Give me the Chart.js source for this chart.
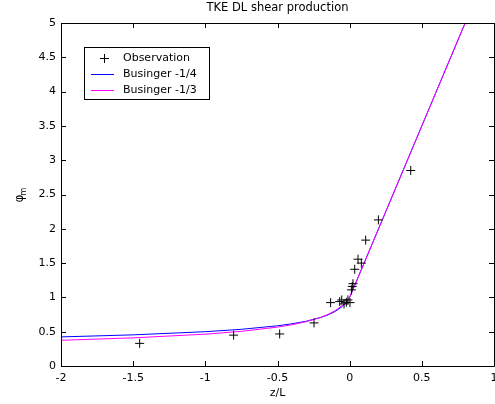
<!DOCTYPE html>
<html>
<head>
<meta charset="utf-8">
<script src="https://cdn.jsdelivr.net/npm/chart.js@4/dist/chart.umd.min.js"></script>
<style>
    body { margin: 0; background: #ffffff; }
    #wrap { width: 495px; height: 404px; }
</style>
</head>
<body>
<div id="wrap"><canvas id="tkeChart" width="495" height="404"></canvas></div>
<script>
var obsZ   = [-1.455, -0.804, -0.485, -0.247, -0.132, -0.069, -0.055, -0.039, -0.023, -0.012, 0.002, 0.012, 0.018, 0.023, 0.035, 0.058, 0.081, 0.111, 0.199, 0.423];
var obsPhi = [0.33, 0.45, 0.467, 0.628, 0.924, 0.939, 0.963, 0.905, 0.929, 0.963, 0.924, 1.11, 1.16, 1.20, 1.41, 1.557, 1.50, 1.835, 2.13, 2.85];

// Businger curves
var curveZ    = [-2, -1.5, -1, -0.75, -0.5, -0.4, -0.3, -0.2, -0.15, -0.1, -0.05, -0.02, 0, 0.2, 0.4, 0.6, 0.8];
var phiQuart  = [0.424, 0.454, 0.5, 0.535, 0.586, 0.615, 0.653, 0.707, 0.745, 0.795, 0.869, 0.937, 1.0, 2.0, 3.0, 4.0, 5.0];
var phiThird  = [0.375, 0.41, 0.464, 0.505, 0.567, 0.601, 0.647, 0.71, 0.752, 0.807, 0.884, 0.946, 1.0, 2.0, 3.0, 4.0, 5.0];

var xTicks = [-2, -1.5, -1, -0.5, 0, 0.5, 1];
var yTicks = [0, 0.5, 1, 1.5, 2, 2.5, 3, 3.5, 4, 4.5, 5];

var FONT = '"DejaVu Sans", Verdana, sans-serif';

function toPoints(xs, ys) {
    var pts = [];
    for (var i = 0; i < xs.length; i++) {
        pts.push({ x: xs[i], y: ys[i] });
    }
    return pts;
}

/**
 * MATLAB style frame: box, inward ticks on all sides, title, y label, legend
 */
var matlabFrame = {
    id: 'matlabFrame',
    afterDraw: function (chart) {
        var ctx = chart.ctx;
        var area = chart.chartArea;
        var xs = chart.scales.x;
        var ys = chart.scales.y;
        var tl = 5;
        ctx.save();
        ctx.strokeStyle = '#000000';
        ctx.lineWidth = 1;
        ctx.beginPath();
        ctx.rect(Math.round(area.left) + 0.5, Math.round(area.top) + 0.5,
            Math.round(area.right - area.left), Math.round(area.bottom - area.top));
        xTicks.forEach(function (v) {
            var px = Math.round(xs.getPixelForValue(v)) + 0.5;
            ctx.moveTo(px, area.bottom);
            ctx.lineTo(px, area.bottom - tl);
            ctx.moveTo(px, area.top);
            ctx.lineTo(px, area.top + tl);
        });
        yTicks.forEach(function (v) {
            var py = Math.round(ys.getPixelForValue(v)) + 0.5;
            ctx.moveTo(area.left, py);
            ctx.lineTo(area.left + tl, py);
            ctx.moveTo(area.right, py);
            ctx.lineTo(area.right - tl, py);
        });
        ctx.stroke();

        // title
        ctx.fillStyle = '#000000';
        ctx.font = '11.5px ' + FONT;
        ctx.textAlign = 'center';
        ctx.textBaseline = 'middle';
        ctx.fillText('TKE DL shear production', (area.left + area.right) / 2, 8);

        // y label: phi with subscript m
        ctx.save();
        ctx.translate(19, (area.top + area.bottom) / 2 + 3);
        ctx.rotate(-Math.PI / 2);
        ctx.textAlign = 'left';
        ctx.textBaseline = 'alphabetic';
        ctx.font = '12px ' + FONT;
        ctx.fillText('\u03c6', -5, 4);
        ctx.font = '8px ' + FONT;
        ctx.fillText('m', 2, 7);
        ctx.restore();

        // legend
        var lx = 84, ly = 47, lw = 125, lh = 52;
        ctx.fillStyle = '#ffffff';
        ctx.fillRect(lx, ly, lw, lh);
        ctx.strokeStyle = '#000000';
        ctx.strokeRect(lx + 0.5, ly + 0.5, lw, lh);
        ctx.font = '11px ' + FONT;
        ctx.textAlign = 'left';
        ctx.textBaseline = 'middle';
        [0, 1, 2].forEach(function (i) {
            var ds = chart.data.datasets[i];
            var ry = Math.round(ly + 11 + i * 16.2) + 0.5;
            ctx.strokeStyle = ds.borderColor;
            ctx.beginPath();
            if (ds.showLine) {
                ctx.moveTo(91, ry);
                ctx.lineTo(114, ry);
            } else {
                ctx.moveTo(100, ry);
                ctx.lineTo(109, ry);
                ctx.moveTo(104.5, ry - 4.5);
                ctx.lineTo(104.5, ry + 4.5);
            }
            ctx.stroke();
            ctx.fillStyle = '#000000';
            ctx.fillText(ds.label, 123, ry);
        });
        ctx.restore();
    }
};

function plainTick(value) {
    return String(value);
}

const tkeChart = new Chart(document.getElementById('tkeChart'), {
    type: 'scatter',
    data: {
        datasets: [{
            label: 'Observation',
            data: toPoints(obsZ, obsPhi),
            showLine: false,
            borderColor: '#000000',
            backgroundColor: '#000000',
            pointStyle: 'cross',
            pointRadius: 4.5,
            borderWidth: 1,
            order: 0
        }, {
            label: 'Businger -1/4',
            data: toPoints(curveZ, phiQuart),
            showLine: true,
            borderColor: '#0000ff',
            borderWidth: 1,
            pointRadius: 0,
            tension: 0,
            order: 2
        }, {
            label: 'Businger -1/3',
            data: toPoints(curveZ, phiThird),
            showLine: true,
            borderColor: '#ff00ff',
            borderWidth: 1,
            pointRadius: 0,
            tension: 0,
            order: 1
        }]
    },
    options: {
        responsive: false,
        animation: false,
        devicePixelRatio: 1,
        layout: {
            autoPadding: false,
            padding: { top: 23, right: 1, left: 0, bottom: 0 }
        },
        plugins: {
            legend: { display: false },
            tooltip: { enabled: false }
        },
        scales: {
            x: {
                type: 'linear',
                min: -2,
                max: 1,
                afterBuildTicks: function (scale) {
                    scale.ticks = xTicks.map(function (v) { return { value: v }; });
                },
                afterFit: function (scale) {
                    scale.height = 38;
                    scale.paddingLeft = 0;
                    scale.paddingRight = 0;
                },
                grid: { display: false, drawTicks: false },
                border: { display: false },
                ticks: {
                    color: '#000000',
                    padding: 6,
                    maxRotation: 0,
                    autoSkip: false,
                    callback: plainTick,
                    font: { family: FONT, size: 11 }
                },
                title: {
                    display: true,
                    text: 'z/L',
                    color: '#000000',
                    padding: { top: 0, bottom: 4 },
                    font: { family: FONT, size: 11 }
                }
            },
            y: {
                type: 'linear',
                min: 0,
                max: 5,
                afterBuildTicks: function (scale) {
                    scale.ticks = yTicks.map(function (v) { return { value: v }; });
                },
                afterFit: function (scale) {
                    scale.width = 61;
                    scale.paddingTop = 0;
                    scale.paddingBottom = 0;
                },
                grid: { display: false, drawTicks: false },
                border: { display: false },
                ticks: {
                    color: '#000000',
                    padding: 5,
                    autoSkip: false,
                    callback: plainTick,
                    font: { family: FONT, size: 11 }
                }
            }
        }
    },
    plugins: [matlabFrame]
});
</script>
</body>
</html>
